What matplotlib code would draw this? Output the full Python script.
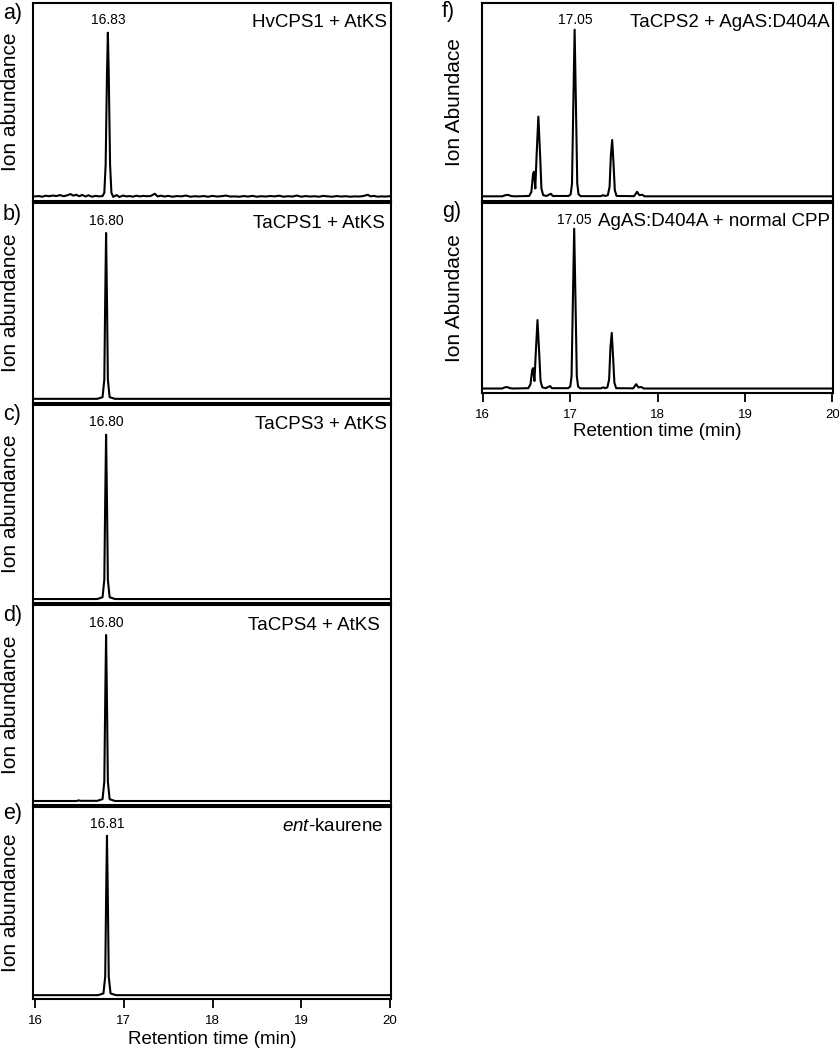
#!/usr/bin/env python3
"""
GC-MS chromatograms: CPS + KS product traces (a-e) and AgAS:D404A traces (f-g).
Traces are hand-read (time, relative ion abundance) points from the figure.
"""

import matplotlib.pyplot as plt

plt.rcParams['font.family'] = 'Liberation Sans'
plt.rcParams['mathtext.fontset'] = 'custom'
plt.rcParams['mathtext.rm'] = 'Liberation Sans'
plt.rcParams['mathtext.it'] = 'Liberation Sans:italic'

# ── data (min, relative abundance, main peak = 100) ──────────────────────
a_time = [16.00, 16.04, 16.08, 16.12, 16.16, 16.20, 16.24, 16.28, 16.32, 16.36,
          16.40, 16.43, 16.46, 16.50, 16.53, 16.57, 16.60, 16.64, 16.68, 16.72,
          16.76, 16.78, 16.795, 16.81, 16.82, 16.83, 16.845, 16.86, 16.88, 16.92,
          16.95, 16.99, 17.03, 17.07, 17.10, 17.14, 17.18, 17.22, 17.26, 17.30,
          17.35, 17.38, 17.42, 17.46, 17.50, 17.55, 17.60, 17.65, 17.70, 17.75,
          17.80, 17.85, 17.90, 17.95, 18.00, 18.05, 18.10, 18.15, 18.20, 18.25,
          18.30, 18.35, 18.40, 18.45, 18.50, 18.55, 18.60, 18.65, 18.70, 18.75,
          18.80, 18.85, 18.90, 18.95, 19.00, 19.05, 19.10, 19.15, 19.20, 19.25,
          19.30, 19.35, 19.40, 19.45, 19.50, 19.55, 19.60, 19.65, 19.70, 19.75,
          19.78, 19.82, 19.86, 19.90, 19.95, 20.00]
a_abund = [0.8, 1.0, 0.6, 1.2, 0.9, 1.3, 1.0, 1.6, 0.9, 1.4,
           2.2, 1.2, 1.8, 0.9, 1.7, 0.7, 1.5, 0.6, 1.1, 0.8,
           1.0, 3.0, 20.0, 75.0, 100.0, 75.0, 20.0, 3.0, 0.5, 1.6,
           0.4, 1.3, 0.8, 1.0, 0.6, 1.2, 0.8, 1.1, 0.9, 1.0,
           2.4, 0.8, 1.2, 0.7, 1.1, 0.6, 1.0, 0.8, 1.3, 0.6,
           0.9, 0.7, 1.0, 0.6, 1.1, 0.7, 0.9, 1.3, 0.7, 0.8,
           0.6, 1.0, 0.7, 1.1, 0.6, 0.9, 0.7, 1.0, 0.8, 1.2,
           0.6, 0.9, 0.7, 1.3, 0.6, 1.0, 0.7, 0.9, 0.6, 1.1,
           0.8, 0.6, 1.0, 0.7, 0.9, 0.6, 0.8, 0.7, 1.0, 1.8,
           0.8, 1.1, 0.6, 0.8, 0.7, 0.9]

b_time = [16.00, 16.70, 16.76, 16.78, 16.79, 16.80, 16.81, 16.82, 16.84, 16.90, 20.00]
b_abund = [0.5, 0.5, 1.5, 12.0, 60.0, 100.0, 60.0, 12.0, 1.5, 0.5, 0.5]

c_time = [16.00, 16.70, 16.76, 16.78, 16.79, 16.80, 16.81, 16.82, 16.84, 16.90, 20.00]
c_abund = [0.4, 0.4, 1.5, 12.0, 60.0, 100.0, 60.0, 12.0, 1.5, 0.4, 0.4]

d_time = [16.00, 16.47, 16.49, 16.51, 16.70, 16.76, 16.78, 16.79, 16.80, 16.81,
          16.82, 16.84, 16.90, 20.00]
d_abund = [0.4, 0.4, 0.8, 0.5, 0.5, 1.5, 12.0, 60.0, 100.0, 60.0,
           12.0, 1.5, 0.4, 0.4]

e_time = [16.00, 16.71, 16.77, 16.79, 16.80, 16.81, 16.82, 16.83, 16.85, 16.91, 20.00]
e_abund = [0.4, 0.4, 1.5, 12.0, 60.0, 100.0, 60.0, 12.0, 1.5, 0.4, 0.4]

f_time = [16.00, 16.22, 16.26, 16.29, 16.32, 16.36, 16.53, 16.555, 16.575, 16.585,
          16.60, 16.615, 16.635, 16.655, 16.67, 16.69, 16.73, 16.765, 16.78, 16.80,
          16.98, 17.005, 17.02, 17.035, 17.05, 17.065, 17.08, 17.095, 17.12, 17.35,
          17.375, 17.40, 17.43, 17.45, 17.465, 17.48, 17.495, 17.51, 17.53, 17.73,
          17.765, 17.79, 17.825, 17.85, 20.00]
f_abund = [0.3, 0.3, 1.0, 1.2, 0.5, 0.3, 0.5, 3.0, 14.0, 15.0,
           5.0, 25.0, 48.0, 25.0, 5.0, 1.0, 0.5, 1.5, 1.8, 0.5,
           0.5, 1.5, 8.0, 55.0, 100.0, 55.0, 8.0, 1.5, 0.4, 0.4,
           1.0, 0.5, 1.0, 6.0, 25.0, 34.0, 20.0, 4.0, 0.5, 0.4,
           3.0, 1.0, 1.2, 0.3, 0.3]

g_time = [16.00, 16.22, 16.25, 16.28, 16.31, 16.35, 16.52, 16.545, 16.565, 16.575,
          16.59, 16.605, 16.625, 16.645, 16.66, 16.68, 16.72, 16.755, 16.77, 16.79,
          16.975, 17.0, 17.015, 17.03, 17.045, 17.06, 17.075, 17.09, 17.115, 17.35,
          17.375, 17.40, 17.425, 17.445, 17.46, 17.475, 17.49, 17.505, 17.525, 17.72,
          17.755, 17.78, 17.815, 17.84, 20.00]
g_abund = [0.3, 0.3, 1.0, 1.2, 0.5, 0.3, 0.5, 3.0, 12.0, 13.0,
           5.0, 22.0, 43.0, 22.0, 5.0, 1.0, 0.5, 1.5, 1.8, 0.5,
           0.5, 1.5, 8.0, 55.0, 100.0, 55.0, 8.0, 1.5, 0.4, 0.4,
           1.0, 0.5, 1.0, 6.0, 26.0, 35.0, 20.0, 4.0, 0.5, 0.4,
           3.0, 1.0, 1.2, 0.3, 0.3]

letters = ['a)', 'b)', 'c)', 'd)', 'e)', 'f)', 'g)']
samples = ['HvCPS1 + AtKS', 'TaCPS1 + AtKS', 'TaCPS3 + AtKS', 'TaCPS4 + AtKS',
           r'$\mathit{ent}$-kaurene', 'TaCPS2 + AgAS:D404A', 'AgAS:D404A + normal CPP']
peak_labels = ['16.83', '16.80', '16.80', '16.80', '16.81', '17.05', '17.05']
peak_label_x = [16.82, 16.80, 16.80, 16.80, 16.81, 17.06, 17.05]
xticks = [16, 17, 18, 19, 20]

traces = [(a_time, a_abund), (b_time, b_abund), (c_time, c_abund), (d_time, d_abund),
          (e_time, e_abund), (f_time, f_abund), (g_time, g_abund)]

# ── layout in pixels (left, top, right, bottom) ──────────────────────────
W, H = 839, 1050
boxes = [(33, 3, 391, 201), (33, 203, 391, 403), (33, 405, 391, 603),
         (33, 605, 391, 805), (33, 807, 391, 999),
         (482, 3, 833, 201), (482, 203, 833, 393)]
letter_y = [13, 215, 415, 616, 814, 11, 211]
letter_x = [3, 3, 3, 3, 3, 442, 442]
sample_x = [0.989, 0.983, 0.989, 0.969, 0.978, 0.991, 0.991]

fig = plt.figure(figsize=(W / 100, H / 100), dpi=100)

for i, (box, (t, y)) in enumerate(zip(boxes, traces)):
    l, top, r, b = box
    ax = fig.add_axes([l / W, 1 - b / H, (r - l) / W, (b - top) / H])
    ax.plot(t, y, color='black', lw=1.5, solid_joinstyle='round')
    if i < 5:
        ax.set_xlim(15.976, 20.012)
        ax.set_ylim(-2, 118)
    else:
        ax.set_xlim(15.99, 20.007)
        ax.set_ylim(-2.5, 116)
    for s in ax.spines.values():
        s.set_linewidth(1.5)
    ax.set_yticks([])
    if i in (4, 6):
        ax.set_xticks(xticks)
        ax.tick_params(axis='x', direction='out', length=6.5, width=1.3,
                       labelsize=9.5, pad=5)
    else:
        ax.set_xticks([])

    ax.text(peak_label_x[i], 0.912, peak_labels[i], transform=ax.get_xaxis_transform(),
            ha='center', va='center', fontsize=10)
    ax.text(sample_x[i], 0.9, samples[i], transform=ax.transAxes,
            ha='right', va='center', fontsize=13.5)

    fig.text(letter_x[i] / W, 1 - letter_y[i] / H, letters[i],
             ha='left', va='center', fontsize=15.5)
    ylab = 'Ion abundance' if i < 5 else 'Ion Abundace'
    yx = 11 if i < 5 else 455
    fig.text(yx / W, 1 - (top + b) / 2 / H, ylab, rotation=90,
             ha='center', va='center', fontsize=15)

fig.text(212 / W, 1 - 1040 / H, 'Retention time (min)', ha='center', va='center',
         fontsize=13.5)
fig.text(657 / W, 1 - 432 / H, 'Retention time (min)', ha='center', va='center',
         fontsize=13.5)

fig.savefig('out.png', dpi=100)
